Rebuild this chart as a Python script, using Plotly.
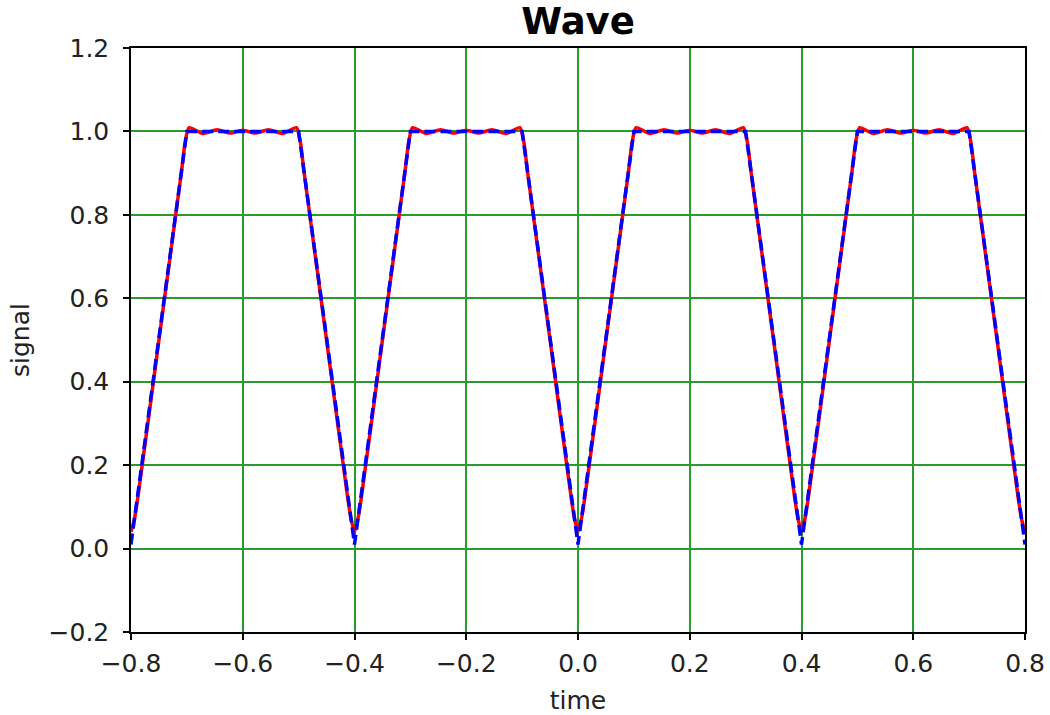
import plotly.graph_objects as go

# Red solid curve (smooth approximation with ripples)
red_x = [-0.800, -0.794, -0.788, -0.750, -0.710, -0.703, -0.696, -0.672, -0.646, -0.622,
         -0.600, -0.578, -0.554, -0.528, -0.504, -0.497, -0.490, -0.450, -0.412, -0.406,
         -0.400, -0.394, -0.388, -0.350, -0.310, -0.303, -0.296, -0.272, -0.246, -0.222,
         -0.200, -0.178, -0.154, -0.128, -0.104, -0.097, -0.090, -0.050, -0.012, -0.006,
         0.000, 0.006, 0.012, 0.050, 0.090, 0.097, 0.104, 0.128, 0.154, 0.178,
         0.200, 0.222, 0.246, 0.272, 0.296, 0.303, 0.310, 0.350, 0.388, 0.394,
         0.400, 0.406, 0.412, 0.450, 0.490, 0.497, 0.504, 0.528, 0.554, 0.578,
         0.600, 0.622, 0.646, 0.672, 0.696, 0.703, 0.710, 0.750, 0.788, 0.794,
         0.800]
red_y = [0.04, 0.07, 0.12, 0.50, 0.90, 0.975, 1.009, 0.995, 1.004, 0.996,
         1.003, 0.996, 1.004, 0.995, 1.009, 0.975, 0.90, 0.50, 0.12, 0.07,
         0.04, 0.07, 0.12, 0.50, 0.90, 0.975, 1.009, 0.995, 1.004, 0.996,
         1.003, 0.996, 1.004, 0.995, 1.009, 0.975, 0.90, 0.50, 0.12, 0.07,
         0.04, 0.07, 0.12, 0.50, 0.90, 0.975, 1.009, 0.995, 1.004, 0.996,
         1.003, 0.996, 1.004, 0.995, 1.009, 0.975, 0.90, 0.50, 0.12, 0.07,
         0.04, 0.07, 0.12, 0.50, 0.90, 0.975, 1.009, 0.995, 1.004, 0.996,
         1.003, 0.996, 1.004, 0.995, 1.009, 0.975, 0.90, 0.50, 0.12, 0.07,
         0.04]

# Blue dashed curve (trapezoid wave)
blue_x = [-0.8, -0.7, -0.5, -0.4, -0.3, -0.1, 0.0, 0.1, 0.3, 0.4, 0.5, 0.7, 0.8]
blue_y = [0.01, 1.0, 1.0, 0.01, 1.0, 1.0, 0.01, 1.0, 1.0, 0.01, 1.0, 1.0, 0.01]

x_ticks = [-0.8, -0.6, -0.4, -0.2, 0.0, 0.2, 0.4, 0.6, 0.8]
y_ticks = [-0.2, 0.0, 0.2, 0.4, 0.6, 0.8, 1.0, 1.2]

FONT = "DejaVu Sans"
TXT = "#222222"

fig = go.Figure()
fig.add_trace(go.Scatter(x=red_x, y=red_y, mode="lines",
                         line=dict(color="red", width=3.5, shape="spline", smoothing=0.6),
                         showlegend=False))
fig.add_trace(go.Scatter(x=blue_x, y=blue_y, mode="lines",
                         line=dict(color="blue", width=3.5, dash="11px,5px"),
                         showlegend=False))

axis_common = dict(
    showline=True, linecolor="black", linewidth=1.5, mirror=True,
    ticks="outside", ticklen=6, tickwidth=1.5, tickcolor="black",
    showgrid=True, gridcolor="#2a9a2a", gridwidth=1.5,
    zeroline=False, tickformat=".1f", automargin=False,
    tickfont=dict(family=FONT, size=25, color=TXT),
)

fig.update_xaxes(range=[-0.8, 0.8], tickvals=x_ticks, ticklabelstandoff=2,
                 title=dict(text="time", font=dict(family=FONT, size=25, color=TXT), standoff=17),
                 **axis_common)
fig.update_yaxes(range=[-0.2, 1.2], tickvals=y_ticks, ticklabelstandoff=9,
                 title=dict(text="signal", font=dict(family=FONT, size=25, color=TXT), standoff=12),
                 **axis_common)

W, H = 1050, 715
fig.update_layout(
    width=W, height=H,
    margin=dict(l=131, r=25, t=48, b=83),
    paper_bgcolor="white", plot_bgcolor="white",
    title=dict(text="<b>Wave</b>", x=0.5, xanchor="center", xref="paper",
               yref="container", y=1 - 21.5 / H, yanchor="middle",
               font=dict(family=FONT, size=37, color="black")),
)

fig.write_html("out.html", config={"displayModeBar": False},
               post_script="document.body.style.margin='0px';")
